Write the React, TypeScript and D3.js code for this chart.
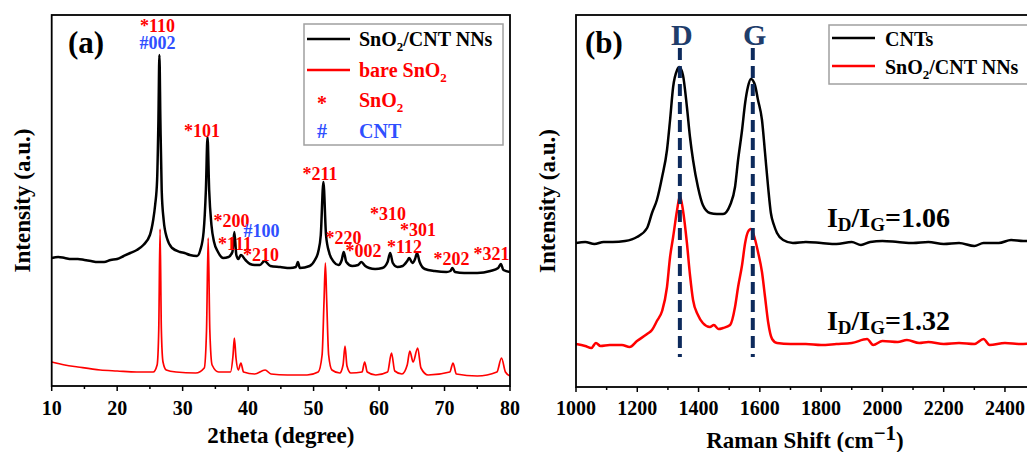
import React from "react";
import * as d3 from "d3";

// ---------- DATA ----------
// Panel (a): XRD, [2theta (deg), intensity (a.u.)]
const xrdComposite: [number, number][] = [
  [10, 128], [11, 129], [12, 128], [13, 127], [14, 127], [15, 126], [16, 125], [17, 124], [18, 124], [19, 126],
  [20, 127], [21, 130], [22, 133], [23, 136], [24, 141], [25, 151], [25.5, 166], [25.8, 181], [26.1, 206],
  [26.3, 266], [26.45, 331], [26.6, 266], [26.8, 196], [27.1, 166], [27.6, 148], [28.4, 138], [29.6, 134],
  [30.3, 133], [31.1, 131], [32.2, 130], [32.7, 136], [33.2, 154], [33.55, 196], [33.8, 249], [34.05, 196],
  [34.4, 161], [34.8, 144], [35.4, 134], [36.2, 128], [37.0, 129], [37.6, 134], [37.9, 154], [38.2, 131],
  [38.5, 127], [38.9, 131], [39.6, 126], [40.3, 122], [41.0, 121], [41.8, 121], [42.5, 125], [43.4, 120],
  [44.9, 119], [46.4, 118], [47.3, 119], [47.6, 124], [47.9, 118], [49.4, 120], [50.2, 126], [50.7, 134],
  [51.1, 151], [51.5, 204], [51.9, 151], [52.4, 133], [53.1, 124], [53.8, 121], [54.3, 126], [54.6, 134],
  [55.0, 124], [55.9, 120], [56.8, 121], [57.3, 124], [57.9, 120], [58.5, 118], [59.4, 117], [60.5, 118],
  [61.3, 124], [61.7, 133], [62.1, 123], [62.8, 119], [63.6, 120], [64.3, 125], [64.6, 128], [65.1, 123],
  [65.5, 127], [65.8, 133], [66.2, 124], [67.0, 117], [68.5, 115], [70.3, 114], [70.9, 115], [71.2, 118],
  [71.6, 114], [73.0, 113], [75.0, 113], [77.0, 115], [78.2, 118], [78.6, 122], [79.0, 116], [80, 114],
];
const xrdBare: [number, number][] = [
  [10, 24], [12, 21], [14, 19], [17.4, 16], [20, 15], [23, 14], [25.5, 14], [26.1, 21], [26.35, 56],
  [26.55, 157], [26.75, 56], [27.0, 24], [27.5, 16], [29, 14], [32, 13], [33.3, 18], [33.65, 56], [33.9, 148],
  [34.15, 56], [34.5, 21], [35.5, 14], [37.3, 14], [37.7, 31], [37.9, 48], [38.15, 28], [38.5, 16], [38.9, 23],
  [39.3, 14], [41, 12], [42.6, 16], [43.5, 12], [46, 11], [49, 11], [50.7, 14], [51.3, 31], [51.6, 86],
  [51.8, 123], [52.0, 86], [52.3, 31], [52.8, 16], [54.0, 13], [54.5, 21], [54.8, 40], [55.1, 20], [55.7, 13],
  [57.4, 14], [57.8, 24], [58.2, 14], [59.5, 11], [61.3, 14], [61.9, 33], [62.4, 15], [63.5, 12], [64.3, 21],
  [64.7, 35], [65.2, 24], [65.9, 38], [66.4, 18], [67.5, 11], [70.8, 14], [71.3, 23], [71.8, 12], [75, 10],
  [78.0, 14], [78.7, 28], [79.3, 14], [80, 10],
];
const xrdTicks = [10, 20, 30, 40, 50, 60, 70, 80];
const xrdMinorTicks = [15, 25, 35, 45, 55, 65, 75];
// peak labels: [text, 2theta (center), intensity (baseline), phase]
const xrdPeakLabels: [string, number, number, string][] = [
  ["*110", 26.16, 354.5, "SnO2"], ["#002", 26.16, 337, "CNT"], ["*101", 32.96, 249, "SnO2"],
  ["*200", 37.46, 159, "SnO2"], ["#100", 42.05, 149, "CNT"], ["*111", 38.0, 136.5, "SnO2"],
  ["*210", 41.97, 125, "SnO2"], ["*211", 50.98, 206, "SnO2"], ["*220", 54.57, 142, "SnO2"],
  ["*002", 57.63, 129, "SnO2"], ["*310", 61.37, 166, "SnO2"], ["*301", 65.95, 150, "SnO2"],
  ["*112", 63.89, 133, "SnO2"], ["*202", 71.07, 121, "SnO2"], ["*321", 77.18, 126, "SnO2"],
];

// Panel (b): Raman, [Raman shift (cm-1), intensity (a.u.)]
const ramanCNT: [number, number][] = [
  [1000, 144], [1030, 145], [1060, 143], [1090, 145], [1120, 145], [1160, 146], [1199, 150], [1232, 159],
  [1248, 174], [1264, 187], [1281, 210], [1297, 237], [1307, 267], [1317, 300], [1330, 317], [1337, 320],
  [1349, 312], [1362, 280], [1372, 250], [1382, 227], [1398, 200], [1414, 182], [1437, 174], [1460, 173],
  [1480, 173], [1503, 182], [1519, 200], [1529, 227], [1542, 257], [1552, 284], [1561, 300], [1571, 308],
  [1584, 302], [1594, 287], [1607, 267], [1617, 234], [1627, 200], [1636, 174], [1646, 162], [1656, 154],
  [1676, 147], [1708, 144], [1750, 145], [1800, 144], [1850, 143], [1900, 145], [1930, 142], [1960, 145],
  [2000, 146], [2050, 145], [2100, 144], [2150, 145], [2200, 143], [2250, 144], [2300, 141], [2330, 144],
  [2380, 144], [2420, 147], [2460, 146], [2500, 146],
];
const ramanComposite: [number, number][] = [
  [1000, 43], [1030, 41], [1050, 39], [1065, 44], [1080, 41], [1110, 42], [1150, 42], [1175, 40],
  [1199, 46], [1232, 53], [1248, 57], [1264, 66], [1281, 76], [1297, 100], [1307, 130], [1317, 150],
  [1330, 177], [1339, 191], [1349, 177], [1362, 144], [1372, 112], [1382, 87], [1398, 72], [1414, 64],
  [1437, 60], [1450, 62], [1465, 58], [1480, 59], [1503, 62], [1519, 80], [1529, 100], [1542, 122],
  [1552, 144], [1561, 155], [1571, 158], [1584, 148], [1594, 135], [1607, 115], [1617, 90], [1627, 65],
  [1640, 48], [1656, 44], [1700, 43], [1750, 43], [1800, 42], [1850, 43], [1900, 44], [1950, 48],
  [1970, 42], [2000, 46], [2050, 45], [2080, 47], [2120, 44], [2150, 45], [2200, 43], [2250, 44],
  [2300, 43], [2330, 48], [2350, 42], [2400, 44], [2450, 43], [2500, 44],
];
const ramanTicks = [1000, 1200, 1400, 1600, 1800, 2000, 2200, 2400];
const ramanMinorTicks = [1100, 1300, 1500, 1700, 1900, 2100, 2300, 2500];
const ramanBands: [string, number][] = [["D", 1339], ["G", 1577]];
const bandLineRange: [number, number] = [30, 339];
const ratioLabels: [string, number, number][] = [["1.06", 1819, 160], ["1.32", 1819, 57]];

// ---------- STYLE ----------
const FONT = "'Liberation Serif', 'Times New Roman', serif";
const RED = "#ff0000";
const BLUE = "#2f4fff";
const NAVY = "#0d2a5c";
const BANDTEXT = "#1f3d6b";

export default function App() {
  const xa = d3.scaleLinear().domain([10, 80]).range([51.7, 510]);
  const ya = d3.scaleLinear().domain([0, 371]).range([386, 15]);
  const xb = d3.scaleLinear().domain([1000, 2500]).range([576, 1035.6]);
  const yb = d3.scaleLinear().domain([0, 372]).range([387, 15]);

  const la = d3.line<[number, number]>().x((d) => xa(d[0])).y((d) => ya(d[1])).curve(d3.curveMonotoneX);
  const lb = d3.line<[number, number]>().x((d) => xb(d[0])).y((d) => yb(d[1])).curve(d3.curveMonotoneX);

  const aL = xa(10), aR = xa(80), aT = ya(371), aB = ya(0);
  const bL = xb(1000), bR = xb(2500), bT = yb(372), bB = yb(0);

  return (
    <svg width={1027} height={452} style={{ position: "absolute", left: 0, top: 0, background: "#fff" }}
      fontFamily={FONT} fontWeight="bold">
      <defs>
        <clipPath id="clipA"><rect x={aL} y={aT} width={aR - aL} height={aB - aT} /></clipPath>
        <clipPath id="clipB"><rect x={bL} y={bT} width={bR - bL} height={bB - bT} /></clipPath>
      </defs>

      {/* ===== Panel (a) ===== */}
      <g clipPath="url(#clipA)">
        <path d={la(xrdBare) || ""} fill="none" stroke={RED} strokeWidth={1.7} />
        <path d={la(xrdComposite) || ""} fill="none" stroke="#000" strokeWidth={2.5} />
      </g>
      <rect x={aL} y={aT} width={aR - aL} height={aB - aT} fill="none" stroke="#000" strokeWidth={1.8} />
      {xrdTicks.map((t) => (
        <g key={"ta" + t}>
          <line x1={xa(t)} x2={xa(t)} y1={aB} y2={aB + 5} stroke="#000" strokeWidth={1.5} />
          <text x={xa(t)} y={415} textAnchor="middle" fontSize={20}>{t}</text>
        </g>
      ))}
      {xrdMinorTicks.map((t) => (
        <line key={"ma" + t} x1={xa(t)} x2={xa(t)} y1={aB} y2={aB + 3} stroke="#000" strokeWidth={1.5} />
      ))}
      <text x={(aL + aR) / 2} y={443} textAnchor="middle" fontSize={23}>2theta (degree)</text>
      <text transform={`translate(30,${(aT + aB) / 2}) rotate(-90)`} textAnchor="middle" fontSize={23}>
        Intensity (a.u.)
      </text>
      <text x={68} y={53} fontSize={31}>(a)</text>
      {xrdPeakLabels.map(([txt, x, y, ph]) => (
        <text key={txt + x} x={xa(x)} y={ya(y)} textAnchor="middle" fontSize={18}
          fill={ph === "CNT" ? BLUE : RED}>{txt}</text>
      ))}
      {/* Legend (a) */}
      <rect x={304} y={24} width={199} height={121} fill="#fff" stroke="#a0a0a0" strokeWidth={1.5} />
      <line x1={307} x2={350} y1={39} y2={39} stroke="#000" strokeWidth={2.5} />
      <text x={359} y={46} fontSize={20} fill="#000">
        SnO<tspan fontSize={13} dy={5}>2</tspan><tspan dy={-5}>/CNT NNs</tspan>
      </text>
      <line x1={307} x2={350} y1={70} y2={70} stroke={RED} strokeWidth={2.5} />
      <text x={359} y={77} fontSize={20} fill={RED}>
        bare SnO<tspan fontSize={13} dy={5}>2</tspan>
      </text>
      <text x={322} y={110} fontSize={20} fill={RED} textAnchor="middle">*</text>
      <text x={359} y={107} fontSize={20} fill={RED}>
        SnO<tspan fontSize={13} dy={5}>2</tspan>
      </text>
      <text x={322} y={138} fontSize={20} fill={BLUE} textAnchor="middle">#</text>
      <text x={359} y={138} fontSize={20} fill={BLUE}>CNT</text>

      {/* ===== Panel (b) ===== */}
      <g clipPath="url(#clipB)">
        <path d={lb(ramanCNT) || ""} fill="none" stroke="#000" strokeWidth={2.5} />
        <path d={lb(ramanComposite) || ""} fill="none" stroke={RED} strokeWidth={2.5} />
        {ramanBands.map(([n, x]) => (
          <line key={"bl" + n} x1={xb(x)} x2={xb(x)} y1={yb(bandLineRange[1])} y2={yb(bandLineRange[0])}
            stroke={NAVY} strokeWidth={4} strokeDasharray="12 6" />
        ))}
      </g>
      <rect x={bL} y={bT} width={bR - bL} height={bB - bT} fill="none" stroke="#000" strokeWidth={1.8} />
      {ramanTicks.map((t) => (
        <g key={"tb" + t}>
          <line x1={xb(t)} x2={xb(t)} y1={bB} y2={bB + 5} stroke="#000" strokeWidth={1.5} />
          <text x={xb(t)} y={415} textAnchor="middle" fontSize={20}>{t}</text>
        </g>
      ))}
      {ramanMinorTicks.map((t) => (
        <line key={"mb" + t} x1={xb(t)} x2={xb(t)} y1={bB} y2={bB + 3} stroke="#000" strokeWidth={1.5} />
      ))}
      <text x={805} y={448} textAnchor="middle" fontSize={23}>
        Raman Shift (cm<tspan dy={-8} fontSize={21}>{"\u22121"}</tspan><tspan dy={8}>)</tspan>
      </text>
      <text transform={`translate(555,${(bT + bB) / 2}) rotate(-90)`} textAnchor="middle" fontSize={23}>
        Intensity (a.u.)
      </text>
      <text x={585} y={53} fontSize={31}>(b)</text>
      {ramanBands.map(([n, x]) => (
        <text key={"bt" + n} x={xb(x) + 2} y={45} textAnchor="middle" fontSize={30} fill={BANDTEXT}>{n}</text>
      ))}
      {ratioLabels.map(([v, x, y]) => (
        <text key={"r" + v} x={xb(x)} y={yb(y)} fontSize={28} fill="#000">
          I<tspan fontSize={19} dy={4}>D</tspan><tspan dy={-4}>/I</tspan><tspan fontSize={19} dy={4}>G</tspan>
          <tspan dy={-4}>={v}</tspan>
        </text>
      ))}
      {/* Legend (b) */}
      <rect x={829} y={25} width={220} height={59} fill="#fff" stroke="#a0a0a0" strokeWidth={1.5} />
      <line x1={832} x2={875} y1={38} y2={38} stroke="#000" strokeWidth={2.5} />
      <text x={885} y={46} fontSize={20} fill="#000">CNTs</text>
      <line x1={832} x2={875} y1={66} y2={66} stroke={RED} strokeWidth={2.5} />
      <text x={885} y={74} fontSize={20} fill="#000">
        SnO<tspan fontSize={13} dy={5}>2</tspan><tspan dy={-5}>/CNT NNs</tspan>
      </text>
    </svg>
  );
}
